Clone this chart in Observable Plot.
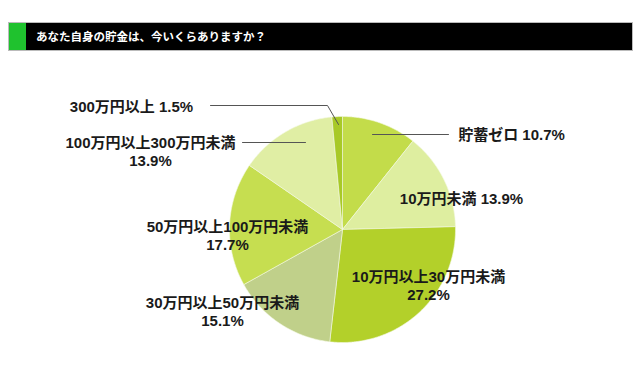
<!DOCTYPE html>
<html>
<head>
<meta charset="utf-8">
<script src="https://cdn.jsdelivr.net/npm/d3@7"></script>
<script src="https://cdn.jsdelivr.net/npm/@observablehq/plot@0.6"></script>
<style>
  html, body { margin: 0; padding: 0; background: #fff; }
  #wrap { position: relative; width: 640px; height: 375px; overflow: hidden; }
  #chart { position: absolute; left: 0; top: 0; }
  #header { position: absolute; left: 8px; top: 22px; width: 623px; height: 27px;
    background: #000; border: 1px solid #bbb; box-sizing: content-box; }
  #header .green { position: absolute; left: 0; top: 0; width: 17px; height: 100%; background: #1fc22e; }
  #header .title { position: absolute; left: 27px; top: 0; line-height: 27px; color: #fff;
    font-family: "Noto Sans CJK JP", sans-serif; font-weight: bold; font-size: 11.5px; }
</style>
</head>
<body>
<div id="wrap">
  <div id="chart"></div>
  <div id="header"><div class="green"></div><div class="title">あなた自身の貯金は、今いくらありますか？</div></div>
</div>
<script>
// ---- data ----
const categories = ["貯蓄ゼロ", "10万円未満", "10万円以上30万円未満", "30万円以上50万円未満", "50万円以上100万円未満", "100万円以上300万円未満", "300万円以上"];
const values = [10.7, 13.9, 27.2, 15.1, 17.7, 13.9, 1.5];
const colors = ["#c3dc4a", "#deeea0", "#b3d02a", "#c0d08a", "#c6de50", "#e0eea4", "#a8c927"];

// ---- layout (pixels) ----
const center = {x: 342, y: 229};
const radius = 113;
const labelLayout = [
  {x: 511, y: 134, multiline: false},
  {x: 461, y: 198, multiline: false},
  {x: 428, y: 284.5, multiline: true},
  {x: 222, y: 310.5, multiline: true},
  {x: 227, y: 235, multiline: true},
  {x: 150, y: 151, multiline: true},
  {x: 131, y: 106, multiline: false}
];
const leaders = [
  {key: 0, pts: [[372, 134], [448, 134]]},
  {key: 5, pts: [[242, 142], [305, 142]]},
  {key: 6, pts: [[210, 105], [327, 105], [338, 124]]}
];

// ---- build slice polygons from d3.pie ----
const arcs = d3.pie().sort(null).value(d => d)(values);
const slicePts = [];
arcs.forEach((a, i) => {
  const steps = Math.max(2, Math.ceil((a.endAngle - a.startAngle) / 0.01));
  slicePts.push({k: i, x: center.x, y: center.y, c: colors[i]});
  for (let s = 0; s <= steps; s++) {
    const t = a.startAngle + (a.endAngle - a.startAngle) * s / steps;
    slicePts.push({k: i, x: center.x + radius * Math.sin(t), y: center.y - radius * Math.cos(t), c: colors[i]});
  }
  slicePts.push({k: i, x: center.x, y: center.y, c: colors[i]});
});

const labels = categories.map((c, i) => ({
  x: labelLayout[i].x, y: labelLayout[i].y,
  text: labelLayout[i].multiline ? `${c}\n${values[i]}%` : `${c} ${values[i]}%`
}));

const leaderPts = leaders.flatMap(l => l.pts.map(p => ({k: l.key, x: p[0], y: p[1]})));

const chart = Plot.plot({
  width: 640, height: 375,
  margin: 0,
  x: {domain: [0, 640], range: [0, 640], axis: null},
  y: {domain: [0, 375], range: [0, 375], axis: null},
  color: {type: "identity"},
  style: {background: "transparent"},
  marks: [
    Plot.line(slicePts, {x: "x", y: "y", z: "k", fill: "c", stroke: "#f4f8e4", strokeWidth: 0.6, curve: "linear"}),
    Plot.line(leaderPts, {x: "x", y: "y", z: "k", stroke: "#555", strokeWidth: 1}),
    Plot.text(labels, {
      x: "x", y: "y", text: "text",
      fontFamily: "'Liberation Sans', 'Noto Sans CJK JP', sans-serif",
      fontWeight: "bold", fontSize: 15, fill: "#1a1a1a",
      lineHeight: 1.2, textAnchor: "middle", lineAnchor: "middle"
    })
  ]
});
document.getElementById("chart").appendChild(chart);
</script>
</body>
</html>
